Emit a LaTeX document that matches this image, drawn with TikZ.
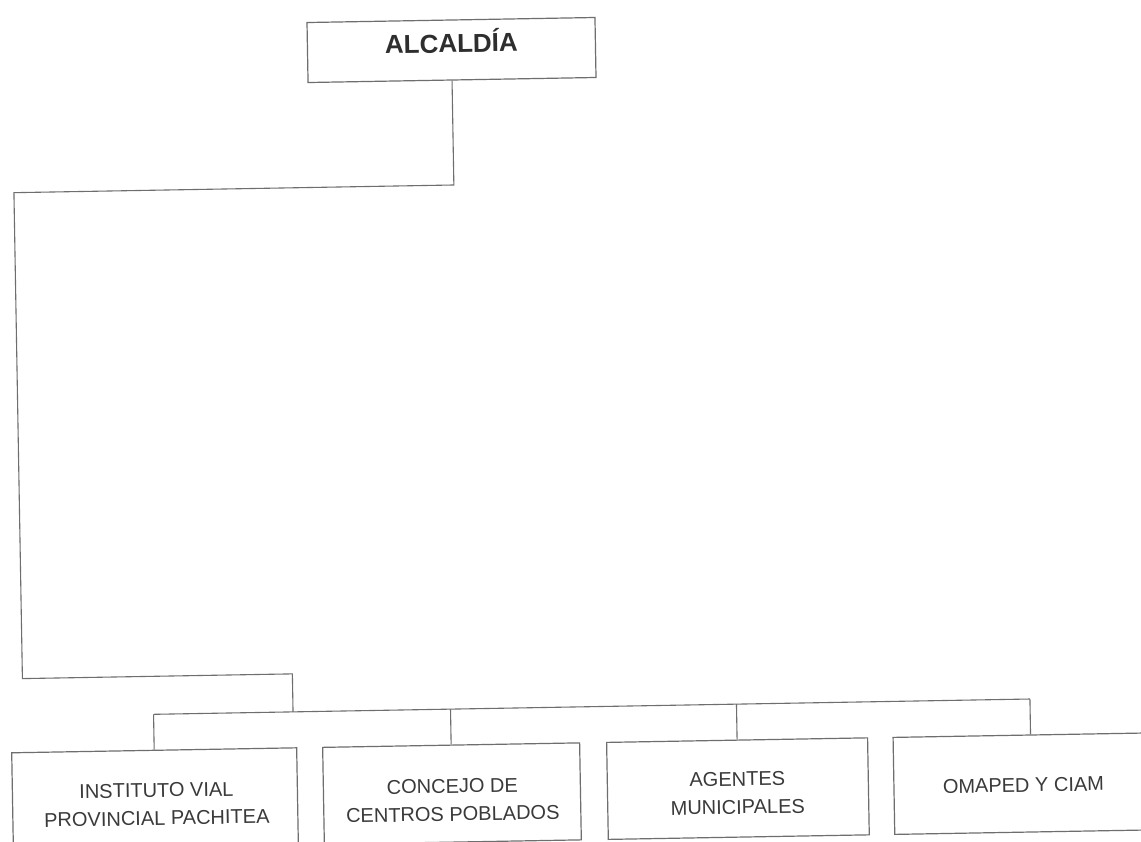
\documentclass[tikz,border=0pt]{standalone}
\usepackage{fontspec}
\setmainfont{Liberation Sans}
\usetikzlibrary{calc}
\definecolor{ln}{HTML}{6E6E6E}
\definecolor{tx}{HTML}{3A3A3A}
\definecolor{tt}{HTML}{2E2E2E}
\begin{document}
\begin{tikzpicture}[x=1pt,y=-1pt,
  box/.style={draw=ln, line width=1.2pt, rectangle, inner sep=0pt, minimum height=97pt, transform shape},
  lbl/.style={text=tx, align=center, font=\fontsize{20}{28}\selectfont, inner sep=0pt, transform shape},
  conn/.style={draw=ln, line width=1.1pt}]
\useasboundingbox (0,0) rectangle (1141,842);
\clip (0,0) rectangle (1141,842);
\fill[white] (0,0) rectangle (1141,842);
\begin{scope}[rotate around={1:(570,421)}]
  % top box
  \node[box, minimum width=288pt, minimum height=60pt] (top) at (458,48) {};
  \node[lbl, text=tt, font=\bfseries\fontsize{26}{30}\selectfont, anchor=base] (toplbl) at (458,50.5) {ALCALDÍA};
  % bottom boxes
  \node[box, minimum width=285pt] (b1) at (148.5,791.5) {};
  \node[box, minimum width=257pt] (b2) at (445.5,791.5) {};
  \node[box, minimum width=261pt] (b3) at (731.5,791.5) {};
  \node[box, minimum width=275pt] (b4) at (1025,791.5) {};
  \node[lbl] (l1) at (150,797) {INSTITUTO VIAL\\PROVINCIAL PACHITEA};
  \node[lbl] (l2) at (446,798) {CONCEJO DE\\CENTROS POBLADOS};
  \node[lbl] (l3) at (731,796) {AGENTES\\MUNICIPALES};
  \node[lbl] (l4) at (1017,793) {OMAPED Y CIAM};
  % connector route
  \coordinate (bendA) at (18,183);
  \coordinate (bendB) at (18,669);
  \coordinate (busC) at (288,707);
  \draw[conn] (top.south) |- (bendA) -- (bendB) -| (busC);
  \draw[conn] (b1.north |- busC) -- (b4.north |- busC);
  \foreach \b in {b1,b2,b3,b4}
    \draw[conn] (\b.north |- busC) -- (\b.north);
\end{scope}
\end{tikzpicture}
\end{document}
